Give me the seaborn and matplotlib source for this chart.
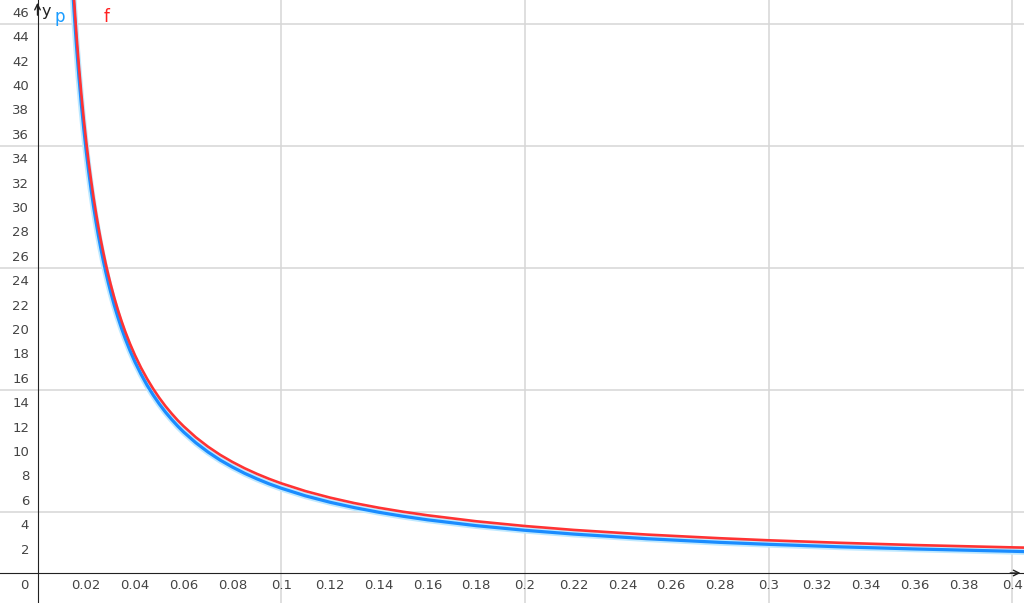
import numpy as np
import pandas as pd
import matplotlib
matplotlib.use("Agg")
import matplotlib.pyplot as plt
import matplotlib.patheffects as pe
import seaborn as sns
from matplotlib.ticker import MultipleLocator, FuncFormatter

x_vals = [0.014, 0.015, 0.016, 0.017, 0.018, 0.019, 0.02, 0.021, 0.022, 0.023,
          0.024, 0.025, 0.026, 0.027, 0.028, 0.029, 0.03, 0.0315, 0.033, 0.0345,
          0.036, 0.038, 0.04, 0.0425, 0.045, 0.0475, 0.05, 0.0525, 0.055, 0.0575,
          0.06, 0.065, 0.07, 0.075, 0.08, 0.085, 0.09, 0.095, 0.1, 0.11,
          0.12, 0.13, 0.14, 0.15, 0.16, 0.18, 0.2, 0.22, 0.25, 0.28,
          0.3, 0.33, 0.36, 0.4, 0.41]
f_vals = [50.35, 47.02, 44.1, 41.53, 39.24, 37.19, 35.35, 33.68, 32.17, 30.78,
          29.52, 28.35, 27.27, 26.28, 25.35, 24.49, 23.68, 22.57, 21.56, 20.64,
          19.79, 18.77, 17.85, 16.82, 15.91, 15.09, 14.35, 13.68, 13.08, 12.52,
          12.02, 11.12, 10.35, 9.68, 9.1, 8.585, 8.13, 7.72, 7.35, 6.71,
          6.18, 5.73, 5.35, 5.02, 4.73, 4.24, 3.85, 3.53, 3.15, 2.85,
          2.68, 2.47, 2.29, 2.1, 2.06]
p_vals = [49.34, 46.05, 43.18, 40.64, 38.38, 36.37, 34.55, 32.91, 31.41, 30.05,
          28.8, 27.65, 26.59, 25.61, 24.69, 23.84, 23.05, 21.95, 20.96, 20.05,
          19.22, 18.21, 17.3, 16.29, 15.38, 14.58, 13.85, 13.19, 12.6, 12.05,
          11.55, 10.67, 9.91, 9.25, 8.68, 8.17, 7.72, 7.31, 6.95, 6.32,
          5.8, 5.36, 4.98, 4.65, 4.36, 3.88, 3.5, 3.19, 2.81, 2.51,
          2.35, 2.14, 1.97, 1.78, 1.73]

df = pd.DataFrame({"x": x_vals, "f": f_vals, "p": p_vals})

sns.set_style("white")
plt.rcParams['font.family'] = ['DejaVu Sans']

fig = plt.figure(figsize=(10.24, 6.03), dpi=100)
ax = fig.add_axes([0, 0, 1, 1])

# blue curve with a light glow, red curve on top
sns.lineplot(data=df, x="x", y="p", color="#1a8cff", linewidth=2.3, ax=ax,
             sort=False, solid_joinstyle="round",
             path_effects=[pe.Stroke(linewidth=4.8, foreground="#bfe9ff"), pe.Normal()])
sns.lineplot(data=df, x="x", y="f", color="#ff3333", linewidth=1.9, ax=ax,
             sort=False, solid_joinstyle="round")

ax.set_xlim(-0.01539, 0.4048)
ax.set_ylim(-2.46, 46.97)

# grid lines
for gx in [0.1, 0.2, 0.3, 0.4]:
    ax.axvline(gx, color="#d6d6d6", linewidth=1.1, zorder=0)
for gy in [5, 15, 25, 35, 45]:
    ax.axhline(gy, color="#d6d6d6", linewidth=1.1, zorder=0)

# axes through origin
for s in ["top", "right"]:
    ax.spines[s].set_visible(False)
ax.spines["left"].set_position(("data", 0))
ax.spines["bottom"].set_position(("data", 0))
ax.spines["left"].set_color("#222222")
ax.spines["bottom"].set_color("#222222")

ax.xaxis.set_major_locator(MultipleLocator(0.02))
ax.yaxis.set_major_locator(MultipleLocator(2))
ax.yaxis.set_minor_locator(MultipleLocator(1))
ax.xaxis.set_minor_locator(MultipleLocator(0.01))

def xfmt(v, pos):
    if abs(v) < 1e-9 or v < 0:
        return ""
    return ("%.2f" % v).rstrip("0")

def yfmt(v, pos):
    if abs(v) < 1e-9 or v < 0:
        return ""
    return "%d" % v

ax.xaxis.set_major_formatter(FuncFormatter(xfmt))
ax.yaxis.set_major_formatter(FuncFormatter(yfmt))
ax.tick_params(axis="y", which="major", direction="out", length=3.5, width=1,
               color="#222222", labelcolor="#444444", labelsize=9.5, pad=2.5)
ax.tick_params(axis="y", which="minor", direction="out", length=2.5, width=0.8,
               color="#222222")
ax.tick_params(axis="x", which="major", direction="in", length=2.5, width=1,
               color="#222222", labelcolor="#444444", labelsize=9.5, pad=4)
ax.tick_params(axis="x", which="minor", direction="in", length=2, width=0.8,
               color="#222222")
ax.set_xlabel("")
ax.set_ylabel("")

ax.text(-0.0035, -0.5, "0", ha="right", va="top", fontsize=9.5, color="#444444")

# arrow heads
ax.annotate("", xy=(0, 46.97), xytext=(0, 45.5),
            arrowprops=dict(arrowstyle="->", color="#222222", lw=1))
ax.annotate("", xy=(0.4045, 0), xytext=(0.398, 0),
            arrowprops=dict(arrowstyle="->", color="#222222", lw=1))

ax.text(0.0015, 46.0, "y", fontsize=11.5, color="#222222", ha="left", va="center")
ax.text(0.0068, 45.6, "p", fontsize=12, color="#1a9cff", ha="left", va="center")
ax.text(0.0272, 45.6, "f", fontsize=12, color="#ff2020", ha="left", va="center")

fig.savefig("out.png", dpi=100)
